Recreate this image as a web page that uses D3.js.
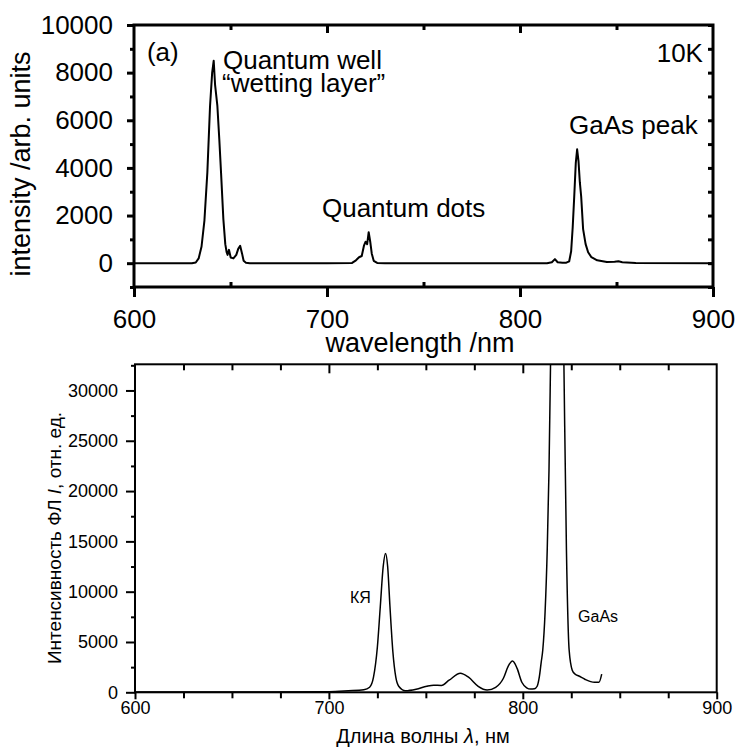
<!DOCTYPE html>
<html>
<head>
<meta charset="utf-8">
<script src="https://cdnjs.cloudflare.com/ajax/libs/d3/7.8.5/d3.min.js"></script>
<style>
  body { margin: 0; background: #fff; }
  svg text { font-family: "Liberation Sans", Arial, sans-serif; fill: #000; }
</style>
</head>
<body>
<svg id="chart" width="738" height="747"></svg>
<script>
// top panel: PL spectrum at 10K (wavelength nm, intensity)
var topWavelength = [600, 620, 630, 632, 633.5, 635, 636.5, 638, 639.4, 640.5, 641.3, 642, 643.2, 644.2, 645.1, 646.3, 647.3, 648, 648.5, 649.2, 650.1, 651.5, 653, 654, 655, 656, 656.8, 658, 660,
  700, 713, 715, 716.6, 718, 719.2, 720, 720.8, 721.6, 722.4, 723.2, 724.2, 726, 730,
  814, 816.5, 818.1, 819.5, 822, 824, 825.5, 826.5, 827.3, 828.1, 828.9, 829.6, 830.3, 831, 831.7, 832.7, 834, 835.3, 837, 840, 845, 849, 851, 853, 860, 900];
var topIntensity = [0, 0, 0, 30, 200, 700, 1800, 3800, 6600, 8000, 8500, 7500, 6600, 5200, 3800, 1850, 800, 460, 350, 560, 240, 200, 350, 600, 730, 400, 100, 20, 0,
  0, 10, 120, 250, 300, 750, 900, 800, 1300, 900, 400, 100, 10, 0,
  0, 40, 170, 40, 20, 20, 80, 500, 1500, 2800, 4200, 4780, 4300, 3400, 2800, 1430, 800, 460, 250, 120, 50, 60, 80, 40, 10, 0];

// bottom panel: PL spectrum (wavelength nm, intensity)
var botWavelength = [600, 650, 700, 710, 718, 721, 723, 725, 726.5, 728, 729.2, 730.3, 731.5, 733, 734.5, 736, 739.5, 745, 750.5, 754, 758, 762, 767.8, 772, 777, 781.6,
  786, 790, 792.5, 794.7, 797, 799.5, 802, 804, 806, 807.4, 808.5, 809.5, 810.3, 811.5, 812.6, 813.5, 814.3, 815.5, 817.7, 820, 821.2, 822.5, 823.9, 825.5, 827, 828.9, 832, 835, 837, 839.3, 840.7];
var botIntensity = [30, 30, 60, 150, 250, 500, 1500, 4500, 8500, 12500, 13800, 12500, 8500, 4000, 1500, 600, 150, 300, 600, 700, 680, 1200, 1900, 1500, 600, 230,
  500, 1400, 2600, 3100, 2400, 1000, 450, 320, 350, 600, 1500, 3000, 4200, 8000, 14200, 22000, 32600, 50000, 62000, 50000, 32600, 14200, 4200, 2200, 1800, 1620, 1300, 1060, 1000, 1000, 1800];

// ticks
var topXMajor = [600, 700, 800, 900];
var topXMinor = [650, 750, 850];
var topYMajor = [0, 2000, 4000, 6000, 8000, 10000];
var topYMinor = [-1000, 1000, 3000, 5000, 7000, 9000];
var botXMajor = [600, 700, 800, 900];
var botXMinor = [625, 650, 675, 725, 750, 775, 825, 850, 875];
var botYMajor = [0, 5000, 10000, 15000, 20000, 25000, 30000];
var botYMinor = [2500, 7500, 12500, 17500, 22500, 27500, 32500];

// annotations [text, wavelength, intensity, anchor]
var topNotes = [["(a)", 606.7, 8490, "start"], ["Quantum well", 646.1, 8150, "start"], ["\u201cwetting layer\u201d", 645.6, 7200, "start"],
  ["Quantum dots", 697.4, 1939, "start"], ["GaAs peak", 825.4, 5423, "start"], ["10K", 894.8, 8446, "end"]];
var botNotes = [["КЯ", 710.9, 8876, "start"], ["GaAs", 828.5, 6987, "start"]];

var svg = d3.select("#chart");

function zip(xs, ys) {
  return xs.map(function (d, i) { return [d, ys[i]]; });
}

function plainAxis(g, axis) {
  g.call(axis);
  g.select(".domain").remove();
  g.selectAll(".tick line").attr("stroke", "#000");
  return g;
}

// ---------- top panel ----------
function drawTop() {
  var x = d3.scaleLinear().domain([600, 900]).range([134, 713]);
  var y = d3.scaleLinear().domain([-1000, 10000]).range([287, 25]);
  var fs = 26;
  var g = svg.append("g");

  var line = d3.line().x(function (d) { return x(d[0]); }).y(function (d) { return y(d[1]); });
  g.append("path").datum(zip(topWavelength, topIntensity))
    .attr("d", line).attr("fill", "none").attr("stroke", "#000")
    .attr("stroke-width", 2).attr("stroke-linejoin", "round");

  var b = plainAxis(g.append("g").attr("transform", "translate(0,287)"),
    d3.axisBottom(x).tickValues(topXMajor).tickSize(10).tickPadding(13));
  b.selectAll(".tick line").attr("stroke-width", 3);
  b.selectAll("text").attr("font-size", fs).style("font-family", null);
  plainAxis(g.append("g").attr("transform", "translate(0,287)"),
    d3.axisBottom(x).tickValues(topXMinor).tickSize(-5).tickFormat("")).selectAll("line").attr("stroke-width", 3);
  plainAxis(g.append("g").attr("transform", "translate(0,25)"),
    d3.axisTop(x).tickValues([700, 800]).tickSize(-8).tickFormat("")).selectAll("line").attr("stroke-width", 3);
  plainAxis(g.append("g").attr("transform", "translate(0,25)"),
    d3.axisTop(x).tickValues(topXMinor).tickSize(-5).tickFormat("")).selectAll("line").attr("stroke-width", 3);

  var l = plainAxis(g.append("g").attr("transform", "translate(134,0)"),
    d3.axisLeft(y).tickValues(topYMajor).tickSize(7).tickPadding(14).tickFormat(d3.format("d")));
  l.selectAll(".tick line").attr("stroke-width", 3);
  l.selectAll("text").attr("font-size", fs).style("font-family", null);
  plainAxis(g.append("g").attr("transform", "translate(134,0)"),
    d3.axisLeft(y).tickValues(topYMinor).tickSize(4).tickFormat("")).selectAll("line").attr("stroke-width", 3);
  plainAxis(g.append("g").attr("transform", "translate(713,0)"),
    d3.axisRight(y).tickValues(topYMajor.concat(topYMinor)).tickSize(-5).tickFormat("")).selectAll("line").attr("stroke-width", 3);

  g.append("rect").attr("x", 134).attr("y", 25).attr("width", 713 - 134).attr("height", 287 - 25)
    .attr("fill", "none").attr("stroke", "#000").attr("stroke-width", 3);

  g.selectAll(".note").data(topNotes).enter().append("text")
    .attr("x", function (d) { return x(d[1]); })
    .attr("y", function (d) { return y(d[2]); })
    .attr("text-anchor", function (d) { return d[3]; })
    .attr("font-size", fs)
    .text(function (d) { return d[0]; });

  g.append("text").attr("transform", "translate(30,164) rotate(-90)")
    .attr("text-anchor", "middle").attr("font-size", 27).text("intensity /arb. units");
  g.append("text").attr("x", 420).attr("y", 352)
    .attr("text-anchor", "middle").attr("font-size", 27).text("wavelength /nm");
}

// ---------- bottom panel ----------
function drawBottom() {
  var x = d3.scaleLinear().domain([600, 900]).range([135, 716.7]);
  var y = d3.scaleLinear().domain([0, 32600]).range([692.3, 364.3]);
  var fs = 18;
  var g = svg.append("g");

  svg.append("clipPath").attr("id", "botclip").append("rect")
    .attr("x", 135).attr("y", 364.3).attr("width", 716.7 - 135).attr("height", 692.3 - 364.3);

  var line = d3.line().curve(d3.curveMonotoneX)
    .x(function (d) { return x(d[0]); }).y(function (d) { return y(d[1]); });
  g.append("path").datum(zip(botWavelength, botIntensity))
    .attr("clip-path", "url(#botclip)")
    .attr("d", line).attr("fill", "none").attr("stroke", "#000").attr("stroke-width", 1.5);

  var b = plainAxis(g.append("g").attr("transform", "translate(0,692.3)"),
    d3.axisBottom(x).tickValues(botXMajor).tickSize(7).tickPadding(2));
  b.selectAll(".tick line").attr("stroke-width", 2);
  b.selectAll("text").attr("font-size", fs).style("font-family", null);
  plainAxis(g.append("g").attr("transform", "translate(0,692.3)"),
    d3.axisBottom(x).tickValues(botXMinor).tickSize(6).tickFormat("")).selectAll("line").attr("stroke-width", 2);
  plainAxis(g.append("g").attr("transform", "translate(0,364.3)"),
    d3.axisTop(x).tickValues([700, 800]).tickSize(-9).tickFormat("")).selectAll("line").attr("stroke-width", 2);
  plainAxis(g.append("g").attr("transform", "translate(0,364.3)"),
    d3.axisTop(x).tickValues(botXMinor).tickSize(-6).tickFormat("")).selectAll("line").attr("stroke-width", 2);

  var l = plainAxis(g.append("g").attr("transform", "translate(135,0)"),
    d3.axisLeft(y).tickValues(botYMajor).tickSize(9).tickPadding(8).tickFormat(d3.format("d")));
  l.selectAll(".tick line").attr("stroke-width", 2);
  l.selectAll("text").attr("font-size", fs).style("font-family", null);
  plainAxis(g.append("g").attr("transform", "translate(135,0)"),
    d3.axisLeft(y).tickValues(botYMinor).tickSize(4).tickFormat("")).selectAll("line").attr("stroke-width", 2);

  g.append("rect").attr("x", 135).attr("y", 364.3).attr("width", 716.7 - 135).attr("height", 692.3 - 364.3)
    .attr("fill", "none").attr("stroke", "#000").attr("stroke-width", 2);

  g.selectAll(".note").data(botNotes).enter().append("text")
    .attr("x", function (d) { return x(d[1]); })
    .attr("y", function (d) { return y(d[2]); })
    .attr("text-anchor", function (d) { return d[3]; })
    .attr("font-size", 16)
    .text(function (d) { return d[0]; });

  var yt = g.append("text").attr("transform", "translate(61,538) rotate(-90)")
    .attr("text-anchor", "middle").attr("font-size", 19);
  yt.append("tspan").text("Интенсивность ФЛ ");
  yt.append("tspan").attr("font-style", "italic").text("I");
  yt.append("tspan").text(", отн. ед.");

  var xt = g.append("text").attr("x", 423).attr("y", 743)
    .attr("text-anchor", "middle").attr("font-size", 20);
  xt.append("tspan").text("Длина волны ");
  xt.append("tspan").attr("font-style", "italic").text("λ");
  xt.append("tspan").text(", нм");
}

drawTop();
drawBottom();
</script>
</body>
</html>
